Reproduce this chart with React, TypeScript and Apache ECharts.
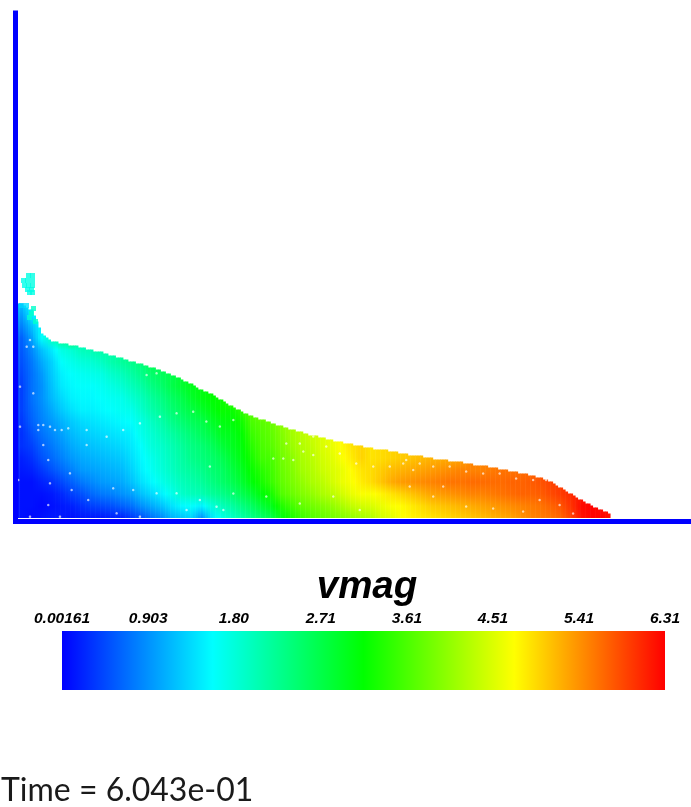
import React, { useEffect, useRef } from "react";
import * as echarts from "echarts";

const vmagMin = 0.00161;
const vmagMax = 6.31;
const rampColors = ["#0000ff", "#00ffff", "#00ff00", "#ffff00", "#ff0000"];
const tickValues = [0.00161, 0.903, 1.8, 2.71, 3.61, 4.51, 5.41, 6.31];
const tickLabels = ["0.00161", "0.903", "1.80", "2.71", "3.61", "4.51", "5.41", "6.31"];
const timeLabel = "Time = 6.043e-01";
const fieldName = "vmag";

// distance from the left wall of each column of the flow
const columnX = [
  5, 15, 25, 35, 45, 55, 65, 75, 85, 95, 105, 115, 125, 135, 145, 155, 165, 175, 185, 195,
  205, 215, 225, 235, 245, 255, 265, 275, 285, 295, 305, 315, 325, 335, 345, 355, 365, 375, 385, 395,
  405, 415, 425, 435, 445, 455, 465, 475, 485, 495, 505, 515, 525, 535, 545, 555, 565, 575, 585, 595,
];
// height of the free surface above the floor for each column
const surface = [
  218, 211, 188, 180, 178, 176, 174, 171, 169, 166, 163, 160, 157, 154, 150, 146, 142, 137, 131, 127,
  121, 115, 110, 105, 102, 98, 95, 92, 89, 86, 84, 81, 79, 77, 75, 73, 72, 70, 68, 66,
  65, 63, 62, 60, 59, 57, 56, 54, 52, 50, 48, 46, 43, 39, 33, 27, 21, 16, 11, 8,
];
const rowStep = 12;
const rowStart = 3.5;
// vmag in each column, from the floor upward, one value per row
const vmagColumns = [
  [0.1, 0.1, 0.1, 0.1, 0.15, 0.2, 0.3, 0.3, 0.35, 0.4, 0.4, 0.4, 0.45, 0.5, 0.55, 0.6, 0.8, 1.0, 1.2],
  [0.05, 0.1, 0.1, 0.1, 0.2, 0.3, 0.4, 0.5, 0.6, 0.65, 0.7, 0.7, 0.7, 0.75, 0.85, 1.0, 1.2, 1.5],
  [0.1, 0.05, 0.1, 0.2, 0.35, 0.5, 0.6, 0.7, 0.8, 0.85, 0.9, 0.9, 0.95, 1.05, 1.2, 1.6],
  [0.15, 0.1, 0.15, 0.3, 0.5, 0.65, 0.75, 0.85, 0.95, 1.05, 1.15, 1.2, 1.25, 1.3, 1.45, 1.9],
  [0.15, 0.15, 0.25, 0.45, 0.65, 0.8, 0.9, 1.0, 1.1, 1.25, 1.35, 1.45, 1.5, 1.6, 1.75, 2.1],
  [0.1, 0.2, 0.4, 0.6, 0.8, 0.95, 1.05, 1.15, 1.25, 1.4, 1.5, 1.55, 1.6, 1.7, 1.85, 2.2],
  [0.15, 0.3, 0.5, 0.75, 0.95, 1.05, 1.15, 1.25, 1.35, 1.5, 1.55, 1.6, 1.65, 1.8, 2.0],
  [0.15, 0.4, 0.65, 0.85, 1.0, 1.1, 1.2, 1.3, 1.4, 1.5, 1.55, 1.6, 1.7, 1.85, 2.05],
  [0.15, 0.45, 0.75, 0.95, 1.05, 1.15, 1.25, 1.35, 1.45, 1.55, 1.6, 1.65, 1.75, 1.95, 2.1],
  [0.2, 0.5, 0.8, 1.0, 1.1, 1.2, 1.3, 1.4, 1.5, 1.6, 1.65, 1.75, 1.9, 2.1],
  [0.2, 0.6, 0.9, 1.05, 1.15, 1.25, 1.35, 1.45, 1.55, 1.65, 1.7, 1.85, 2.0, 2.2],
  [0.35, 0.7, 1.0, 1.2, 1.3, 1.38, 1.45, 1.5, 1.6, 1.7, 1.85, 2.0, 2.15, 2.3],
  [0.5, 0.9, 1.2, 1.4, 1.5, 1.55, 1.6, 1.7, 1.75, 1.9, 2.0, 2.15, 2.3, 2.4],
  [0.7, 1.05, 1.35, 1.55, 1.65, 1.7, 1.8, 1.85, 1.95, 2.1, 2.2, 2.35, 2.5, 2.6],
  [0.85, 1.2, 1.5, 1.7, 1.8, 1.85, 1.9, 2.0, 2.1, 2.25, 2.35, 2.5, 2.6],
  [1.1, 1.4, 1.7, 1.85, 1.95, 2.0, 2.05, 2.15, 2.3, 2.45, 2.55, 2.7],
  [1.2, 1.55, 1.9, 2.0, 2.1, 2.15, 2.2, 2.3, 2.45, 2.6, 2.7, 2.85],
  [1.3, 1.6, 2.0, 2.1, 2.2, 2.3, 2.35, 2.45, 2.6, 2.75, 2.9, 3.0],
  [0.9, 1.5, 2.05, 2.2, 2.3, 2.4, 2.45, 2.6, 2.7, 2.9, 3.05],
  [1.4, 1.8, 2.2, 2.35, 2.45, 2.5, 2.6, 2.75, 2.9, 3.05, 3.15],
  [1.7, 2.0, 2.3, 2.5, 2.55, 2.65, 2.8, 2.95, 3.05, 3.2],
  [1.9, 2.15, 2.45, 2.65, 2.75, 2.85, 2.95, 3.0, 3.1, 3.2, 3.35],
  [2.1, 2.35, 2.65, 2.85, 2.95, 3.05, 3.1, 3.15, 3.25, 3.4],
  [2.3, 2.55, 2.85, 3.1, 3.2, 3.3, 3.4, 3.5, 3.6, 3.65],
  [2.5, 2.8, 3.1, 3.3, 3.4, 3.55, 3.6, 3.65, 3.7, 3.8],
  [2.7, 3.0, 3.3, 3.5, 3.55, 3.6, 3.7, 3.75, 3.8, 3.85],
  [3.05, 3.35, 3.65, 3.75, 3.8, 3.85, 3.9, 3.95, 4.0],
  [3.3, 3.55, 3.8, 3.9, 3.95, 4.0, 4.1, 4.15],
  [3.5, 3.75, 3.95, 4.05, 4.15, 4.2, 4.25, 4.3],
  [3.65, 3.85, 4.05, 4.2, 4.25, 4.3, 4.35, 4.4],
  [3.75, 3.95, 4.2, 4.3, 4.4, 4.45, 4.5],
  [3.85, 4.05, 4.3, 4.45, 4.5, 4.55, 4.6],
  [3.95, 4.2, 4.45, 4.6, 4.6, 4.7, 4.75],
  [4.05, 4.35, 4.6, 4.7, 4.75, 4.85, 4.9],
  [4.15, 4.45, 4.7, 4.85, 4.9, 5.0, 5.0],
  [4.25, 4.5, 4.7, 4.95, 4.95, 4.9],
  [4.45, 4.6, 4.8, 5.1, 5.05, 4.95],
  [4.55, 4.7, 4.9, 5.25, 5.15, 5.0],
  [4.7, 4.75, 5.0, 5.35, 5.2, 5.05],
  [4.8, 4.85, 5.1, 5.4, 5.25, 5.1],
  [4.85, 4.95, 5.2, 5.45, 5.3, 5.15],
  [4.9, 5.05, 5.3, 5.5, 5.35, 5.2],
  [4.95, 5.1, 5.35, 5.55, 5.4, 5.25],
  [5.0, 5.15, 5.4, 5.6, 5.45, 5.3],
  [5.05, 5.2, 5.45, 5.6, 5.5, 5.35],
  [5.1, 5.25, 5.5, 5.65, 5.5],
  [5.15, 5.3, 5.5, 5.65, 5.5],
  [5.2, 5.35, 5.55, 5.65, 5.55],
  [5.25, 5.4, 5.6, 5.65, 5.6],
  [5.3, 5.45, 5.65, 5.7, 5.6],
  [5.4, 5.5, 5.7, 5.7, 5.65],
  [5.5, 5.55, 5.7, 5.75, 5.7],
  [5.55, 5.6, 5.75, 5.8],
  [5.6, 5.7, 5.85, 5.9],
  [5.7, 5.8, 5.95],
  [5.9, 6.0, 6.05],
  [6.2, 6.25, 6.2],
  [6.3, 6.3],
  [6.31, 6.25],
  [6.2, 6.2],
];
// detached droplets near the left wall: [x, height, vmag]
const droplets = [
  [13, 246, 1.75], [17, 246, 1.75], [8, 241, 1.7], [12, 241, 1.75], [17, 241, 1.75], [9, 236, 1.7],
  [13, 236, 1.75], [17, 236, 1.75], [12, 232, 1.7], [16, 232, 1.75], [14, 229, 1.7], [17, 229, 1.75],
  [6, 216, 1.3], [11, 216, 1.4], [18, 213, 1.9], [16, 208, 1.9], [14, 204, 1.85], [20, 200, 1.9],
];
// gaps between particles: [x, height]
const gaps = [
  [22.8, 96.5], [22.8, 91.5], [27.8, 96.5], [34.5, 94.8], [39.5, 91.5], [46.2, 91.5], [52.8, 93.2], [71.2, 91.5],
  [27.8, 76.5], [32.8, 61.5], [71.2, 76.5], [91.2, 84.8], [107.8, 91.5], [124.5, 98.2], [144.5, 104.8], [161.2, 108.2],
  [177.8, 109.8], [131.2, 146.5], [141.2, 148.2], [14.5, 181.5], [17.8, 174.8], [11.2, 174.8], [4.5, 134.8], [4.5, 94.8],
  [17.8, 128.2], [2.8, 41.5], [34.5, 38.2], [56.2, 31.5], [72.8, 21.5], [97.8, 33.2], [117.8, 31.5], [141.2, 28.2],
  [161.2, 28.2], [184.5, 21.5], [201.2, 14.8], [101.2, 8.2], [124.5, 4.8], [171.2, 11.5], [54.5, 48.2], [32.8, 16.5],
  [14.5, 4.8], [44.5, 4.8], [191, 100], [204.5, 95], [218, 101.5], [258, 63], [268, 63], [278, 61.5], [288, 70],
  [298, 66.5], [271, 78], [284.5, 78], [298, 85], [311, 75], [324.5, 68], [341, 58], [358, 55], [374.5, 55], [388, 58],
  [398, 51.5], [251, 25], [284.5, 18], [318, 25], [344.5, 11.5], [208, 11.5], [218, 28], [194.5, 55], [391, 61.5],
  [404.5, 58], [418, 55], [434.5, 55], [451, 50], [468, 48], [484.5, 48], [501, 43], [518, 41.5], [418, 25], [451, 15],
  [478, 13], [508, 10], [524.5, 21.5], [544.5, 16.5], [531, 41.5], [394.5, 35], [428, 35], [558, 8],
];
const wallPath = [[0, 511], [0, 0], [676, 0]];
const colorbarRange = [[vmagMin, vmagMax]];

const colorOf = (v: number) =>
  echarts.color.lerp((v - vmagMin) / (vmagMax - vmagMin), rampColors) as string;

const stripsPerCell = 4;
const valueAt = (col: number[], j: number) => col[Math.min(j, col.length - 1)];

export default function App() {
  const ref = useRef<HTMLDivElement>(null);
  useEffect(() => {
    document.body.style.margin = "0";
    document.body.style.overflow = "hidden";
    const chart = echarts.init(ref.current!, null, { renderer: "svg" });

    // One shaded section between column i and column i + 1
    const renderSection = (_p: any, api: any) => {
      const i = api.value(2);
      const a = i < 0 ? 0 : i;
      const b = i < 0 ? 0 : Math.min(i + 1, columnX.length - 1);
      const xA = i < 0 ? 0 : columnX[a];
      const xB = i < 0 ? columnX[0] : columnX[b];
      const children: any[] = [];
      for (let s = 0; s < stripsPerCell; s++) {
        const t = s / stripsPerCell;
        const left = xA + (xB - xA) * t;
        const right = xA + (xB - xA) * (t + 1 / stripsPerCell);
        const rawTop = surface[a] + (surface[b] - surface[a]) * t;
        const top = Math.round(rawTop / 2) * 2;
        const stops: any[] = [];
        let j = 0;
        for (let h = rowStart; ; h += rowStep, j++) {
          const v = valueAt(vmagColumns[a], j) * (1 - t) + valueAt(vmagColumns[b], j) * t;
          const off = (h - rowStart) / (top - rowStart);
          if (off >= 1) {
            stops.push({ offset: 1, color: colorOf(v) });
            break;
          }
          stops.push({ offset: off, color: colorOf(v) });
        }
        const p0 = api.coord([left, rowStart]);
        const p1 = api.coord([right, top]);
        children.push({
          type: "rect",
          shape: { x: p0[0], y: p1[1], width: p1[0] - p0[0] + 0.5, height: p0[1] - p1[1] },
          style: { fill: new echarts.graphic.LinearGradient(0, 1, 0, 0, stops) },
        });
      }
      return { type: "group", children };
    };

    chart.setOption({
      animation: false,
      backgroundColor: "#ffffff",
      title: [
        {
          text: fieldName,
          left: 367,
          top: 565,
          padding: 0,
          textAlign: "center",
          textStyle: { fontFamily: "Liberation Sans", fontStyle: "italic", fontWeight: "bold", fontSize: 38.5, color: "#000000" },
        },
        {
          text: timeLabel,
          left: 1,
          top: 774,
          padding: 0,
          textStyle: { fontFamily: "Lato", fontWeight: "normal", fontSize: 32, lineHeight: 28, color: "#1a1a1a" },
        },
      ],
      grid: [
        { left: 15.5, top: 10.5, width: 675.5, height: 511 },
        { left: 62, top: 631, width: 603, height: 59 },
      ],
      xAxis: [
        { gridIndex: 0, type: "value", min: 0, max: 676, show: false },
        {
          gridIndex: 1,
          type: "value",
          min: vmagMin,
          max: vmagMax,
          position: "top",
          axisLine: { show: false },
          axisTick: { show: false },
          splitLine: { show: false },
          axisLabel: {
            customValues: tickValues,
            margin: 6,
            hideOverlap: false,
            formatter: (v: number) => tickLabels[tickValues.findIndex((t) => Math.abs(t - v) < 1e-6)] ?? "",
            fontFamily: "Liberation Sans",
            fontStyle: "italic",
            fontWeight: "bold",
            fontSize: 15.5,
            color: "#000000",
          },
        },
      ],
      yAxis: [
        { gridIndex: 0, type: "value", min: 0, max: 511, show: false },
        { gridIndex: 1, type: "value", min: 0, max: 1, show: false },
      ],
      series: [
        {
          type: "custom",
          xAxisIndex: 0,
          yAxisIndex: 0,
          silent: true,
          clip: false,
          data: [[0, 0, -1], ...columnX.slice(0, -1).map((x, i) => [x, surface[i], i])],
          encode: { x: 0, y: 1 },
          renderItem: renderSection,
        },
        {
          type: "scatter",
          xAxisIndex: 0,
          yAxisIndex: 0,
          silent: true,
          symbol: "rect",
          symbolSize: 5,
          data: droplets,
          itemStyle: { color: (p: any) => colorOf(p.value[2]) },
        },
        {
          type: "scatter",
          xAxisIndex: 0,
          yAxisIndex: 0,
          silent: true,
          symbol: "circle",
          symbolSize: 2.5,
          data: gaps,
          itemStyle: { color: "#ffffff", opacity: 0.65 },
        },
        {
          type: "line",
          xAxisIndex: 0,
          yAxisIndex: 0,
          silent: true,
          showSymbol: false,
          data: wallPath,
          clip: false,
          lineStyle: { color: "#0000ff", width: 5, join: "miter" },
        },
        {
          type: "custom",
          xAxisIndex: 1,
          yAxisIndex: 1,
          silent: true,
          data: colorbarRange,
          encode: { x: [0, 1] },
          renderItem: (_p: any, api: any) => {
            const lo = api.coord([api.value(0), 0]);
            const hi = api.coord([api.value(1), 1]);
            return {
              type: "rect",
              shape: { x: lo[0], y: hi[1], width: hi[0] - lo[0], height: lo[1] - hi[1] },
              style: {
                fill: new echarts.graphic.LinearGradient(
                  0, 0, 1, 0,
                  rampColors.map((color, i) => ({ offset: i / (rampColors.length - 1), color }))
                ),
              },
            };
          },
        },
      ],
    });
    return () => chart.dispose();
  }, []);
  return <div ref={ref} style={{ position: "fixed", left: 0, top: 0, width: 691, height: 807, filter: "blur(0.5px)" }} />;
}
